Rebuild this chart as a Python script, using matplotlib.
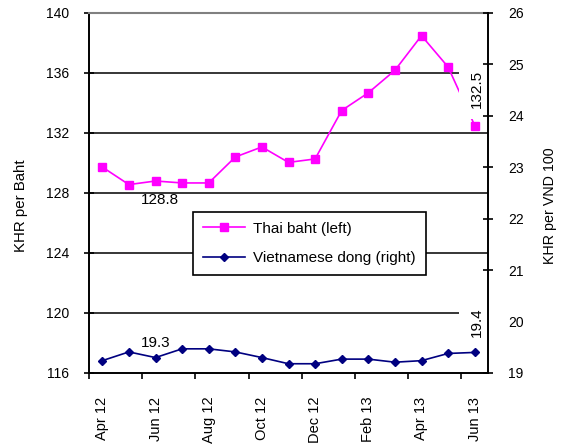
import matplotlib
matplotlib.use("Agg")
import matplotlib.pyplot as plt
import numpy as np

plt.rcParams["font.family"] = ["Liberation Sans", "DejaVu Sans"]

# Monthly exchange rates, Apr 2012 - Jun 2013
months = ["Apr 12", "May 12", "Jun 12", "Jul 12", "Aug 12", "Sep 12", "Oct 12",
          "Nov 12", "Dec 12", "Jan 13", "Feb 13", "Mar 13", "Apr 13", "May 13", "Jun 13"]
thai_baht = [129.73, 128.56, 128.8, 128.67, 128.67, 130.40, 131.07, 130.04,
             130.27, 133.50, 134.68, 136.18, 138.49, 136.40, 132.5]
viet_dong = [19.24, 19.41, 19.3, 19.47, 19.47, 19.41, 19.30, 19.18,
             19.18, 19.27, 19.27, 19.21, 19.24, 19.38, 19.4]

left_ticks = [116, 120, 124, 128, 132, 136, 140]
right_ticks = [19, 20, 21, 22, 23, 24, 25, 26]

PINK = "#FF00FF"
NAVY = "#000080"

x = np.arange(len(months))

fig = plt.figure(figsize=(5.62, 4.46), dpi=100)
ax = fig.add_axes([89 / 562, 73 / 446, 399 / 562, 360 / 446])
ax2 = ax.twinx()

ax.set_xlim(-0.5, len(months) - 0.5)
ax.set_ylim(left_ticks[0], left_ticks[-1])
ax2.set_ylim(right_ticks[0], right_ticks[-1])

# horizontal gridlines on the left scale
for v in left_ticks[1:-1]:
    ax.axhline(v, color="black", lw=1.1, zorder=1)

pink_line, = ax.plot(x, thai_baht, color=PINK, marker="s", ms=6, lw=1.2,
                     label="Thai baht (left)", zorder=2)
navy_line, = ax2.plot(x, viet_dong, color=NAVY, marker="D", ms=4, lw=1.2,
                      label="Vietnamese dong (right)", zorder=2)

# spines
for s in ("left", "bottom"):
    ax.spines[s].set_linewidth(1.4)
    ax.spines[s].set_color("black")
ax.spines["top"].set_color("#808080")
ax.spines["top"].set_linewidth(1.5)
ax.spines["right"].set_visible(False)
for s in ("left", "bottom", "top"):
    ax2.spines[s].set_visible(False)
ax2.spines["right"].set_linewidth(1.4)
ax2.spines["right"].set_color("black")

# x axis: tick marks between every second month, labels on the months
ax.set_xticks(np.arange(-0.5, len(months) - 1, 2))
ax.set_xticklabels([])
ax.set_xticks(x[::2], minor=True)
ax.set_xticklabels(months[::2], minor=True, rotation=90)
ax.tick_params(axis="x", which="major", direction="out", length=4, width=1.2)
ax.tick_params(axis="x", which="minor", length=0, pad=17, labelsize=10.5)

# y axes
ax.set_yticks(left_ticks)
ax.tick_params(axis="y", direction="inout", length=7, width=1.2, pad=11, labelsize=10)
ax2.set_yticks(right_ticks)
ax2.tick_params(axis="y", direction="inout", length=7, width=1.2, pad=11, labelsize=10)

ax.set_ylabel("KHR per Baht", fontsize=10.8)
ax.yaxis.set_label_coords(-0.153, 0.464)
ax2.set_ylabel("KHR per VND 100", fontsize=10.3)
ax2.yaxis.set_label_coords(1.138, 0.464)

# data labels
ax.annotate(f"{thai_baht[2]:.1f}", (x[2], thai_baht[2]), xytext=(3, -13.7),
            textcoords="offset points", ha="center", va="center", fontsize=11)
ax2.annotate(f"{viet_dong[2]:.1f}", (x[2], viet_dong[2]), xytext=(0, 10.3),
             textcoords="offset points", ha="center", va="center", fontsize=11)
box = dict(boxstyle="square,pad=0.7", fc="white", ec="none")
ax.annotate(f"{thai_baht[-1]:.1f}", (x[-1], thai_baht[-1]), xytext=(1.4, 26.3),
            textcoords="offset points", ha="center", va="center", fontsize=11,
            rotation=90, bbox=box, zorder=2.3)
ax2.annotate(f"{viet_dong[-1]:.1f}", (x[-1], viet_dong[-1]), xytext=(1.4, 22),
             textcoords="offset points", ha="center", va="center", fontsize=11,
             rotation=90, bbox=box, zorder=2.3)

leg = ax2.legend(handles=[pink_line, navy_line], loc="upper left",
                 bbox_to_anchor=(0.26, 0.448), borderaxespad=0, fontsize=11,
                 frameon=True, fancybox=False, framealpha=1, edgecolor="black",
                 handlelength=2.8, handletextpad=0.5, borderpad=0.65,
                 labelspacing=1.0)
leg.get_frame().set_linewidth(1.2)

fig.savefig("out.png", dpi=100)
